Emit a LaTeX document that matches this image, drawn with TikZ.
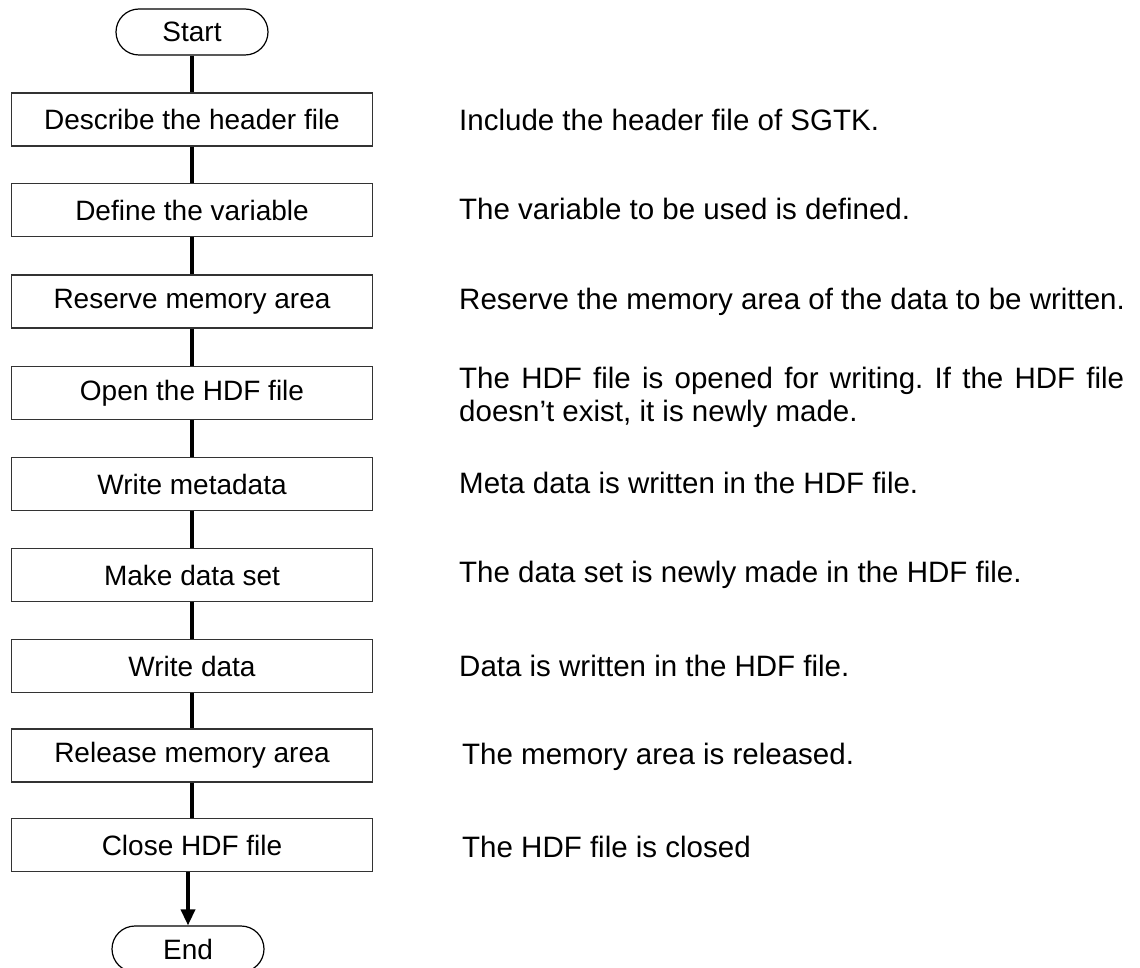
\documentclass[tikz,border=0pt]{standalone}
\usepackage{fontspec}
\setmainfont{Liberation Sans}
\usetikzlibrary{arrows.meta}

\begin{document}
\frenchspacing
\begin{tikzpicture}[x=1pt,y=-1pt]
\useasboundingbox (0,0) rectangle (1140,968);
\tikzstyle{every node} = [font=\fontsize{28}{33}\selectfont, inner sep=0pt]
\tikzstyle{box} = [draw=black!80, line width=1.2pt, minimum width=361pt, minimum height=53pt]
\tikzstyle{term} = [draw, line width=1.2pt, rounded corners=23pt, minimum width=152pt, minimum height=46pt]
\tikzstyle{note} = [anchor=west, font=\fontsize{29.5}{33}\selectfont]
\tikzstyle{link} = [line width=3.5pt]

\node [term] (st) at (192, 32) {Start};
\node [box] (a) at (192, 119.5) {Describe the header file};
\node [box] (b) at (192, 210) {Define the variable};
\node [box] (c) at (192, 301.5) {Reserve memory area};
\node [box] (d) at (192, 393) {Open the HDF file};
\node [box] (e) at (192, 484) {Write metadata};
\node [box] (f) at (192, 575) {Make data set};
\node [box] (g) at (192, 666) {Write data};
\node [box] (h) at (192, 755.5) {Release memory area};
\node [box] (i) at (192, 845) {Close HDF file};
\node [term] (en) at (188, 949) {End};

\node [note] (ax) at (459, 120) {Include the header file of SGTK.};
\node [note] (bx) at (459, 209) {The variable to be used is defined.};
\node [note] (cx) at (459, 302) {Reserve the memory area of the data to be written.};
\node [note, text width=665pt, align=justify] (dx) at (459, 397)
  {The HDF file is opened for writing. If the HDF file\linebreak doesn’t exist, it is newly made.};
\node [note] (ex) at (459, 483) {Meta data is written in the HDF file.};
\node [note] (fx) at (459, 575) {The data set is newly made in the HDF file.};
\node [note] (gx) at (459, 666) {Data is written in the HDF file.};
\node [note] (hx) at (462, 757) {The memory area is released.};
\node [note] (ix) at (462, 847) {The HDF file is closed};

\draw [link] (st) to (a);
\draw [link] (a) to (b);
\draw [link] (b) to (c);
\draw [link] (c) to (d);
\draw [link] (d) to (e);
\draw [link] (e) to (f);
\draw [link] (f) to (g);
\draw [link] (g) to (h);
\draw [link] (h) to (i);
\draw [link, -{Triangle[length=16pt,width=14pt]}] (i.south -| en.north) to (en.north);
\end{tikzpicture}
\end{document}
